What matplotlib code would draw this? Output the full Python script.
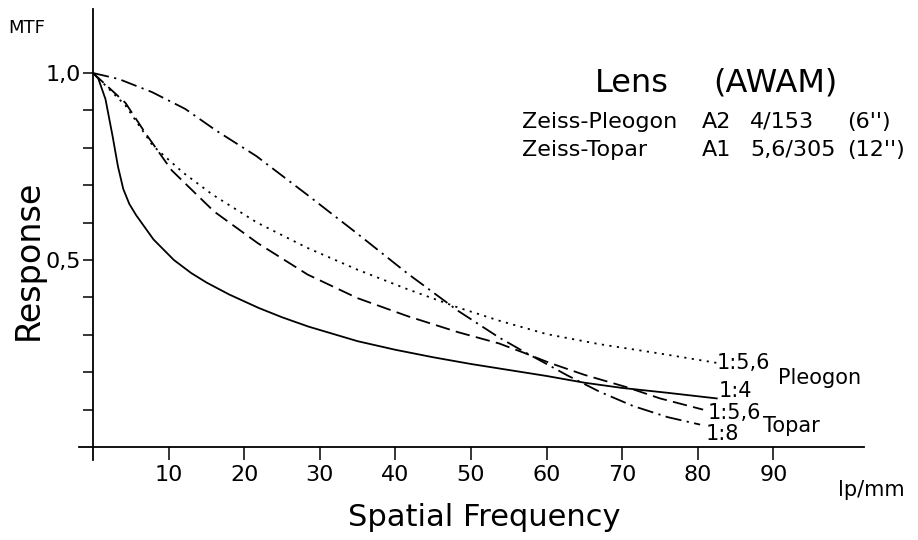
import matplotlib
matplotlib.use("Agg")
import matplotlib.pyplot as plt

plt.rcParams['font.family'] = ['DejaVu Sans']

# MTF data (lp/mm, response)
pleogon_f4_x = [0, 0.7, 1.65, 2.6, 3.3, 4, 4.8, 5.7, 8, 10.7, 13, 15, 18, 21.9, 25, 28.5,
                35, 40, 45, 50, 55, 60, 65, 70, 76, 82.5]
pleogon_f4_y = [1.0, 0.985, 0.93, 0.83, 0.75, 0.69, 0.65, 0.62, 0.555, 0.50, 0.465, 0.44,
                0.408, 0.372, 0.347, 0.322, 0.283, 0.26, 0.24, 0.222, 0.206, 0.19, 0.172,
                0.158, 0.145, 0.13]

pleogon_f56_x = [0, 4.3, 7.9, 11.9, 15.8, 21.7, 28.3, 35, 41.6, 48.3, 53.7, 60, 67, 75, 82.5]
pleogon_f56_y = [1.0, 0.913, 0.806, 0.734, 0.675, 0.60, 0.533, 0.474, 0.422, 0.373, 0.338,
                 0.302, 0.275, 0.25, 0.225]

topar_f56_x = [0, 4.3, 6.9, 10.4, 16, 21.8, 28.4, 35, 41.6, 48.3, 53.7, 57, 60.4, 65, 70.6,
               75, 80.7]
topar_f56_y = [1.0, 0.92, 0.84, 0.74, 0.63, 0.545, 0.461, 0.398, 0.35, 0.307, 0.277, 0.252,
               0.225, 0.193, 0.16, 0.13, 0.10]

topar_f8_x = [0, 3.4, 7.8, 12.2, 16.3, 21.6, 28.3, 35, 41.6, 48.3, 53.7, 57, 60, 62.7, 67,
              71.4, 76, 80.3]
topar_f8_y = [1.0, 0.984, 0.949, 0.904, 0.846, 0.778, 0.675, 0.57, 0.464, 0.364, 0.293,
              0.255, 0.222, 0.192, 0.148, 0.11, 0.08, 0.06]

x_ticks = [10, 20, 30, 40, 50, 60, 70, 80, 90]
y_ticks = [0.1, 0.2, 0.3, 0.4, 0.5, 0.6, 0.7, 0.8, 0.9, 1.0]

W, H = 918, 540
fig = plt.figure(figsize=(W / 100, H / 100), dpi=100)
ax = fig.add_axes([77.9 / W, 1 - 462 / H, 793.8 / W, 456.3 / H])
ax.set_xlim(-2, 103)
ax.set_ylim(-0.04, 1.18)

lw = 1.3
ax.plot(pleogon_f4_x, pleogon_f4_y, color='black', lw=lw, ls='-')
ax.plot(pleogon_f56_x, pleogon_f56_y, color='black', lw=lw, ls=(0, (1.2, 3)))
ax.plot(topar_f56_x, topar_f56_y, color='black', lw=lw, ls=(0, (8, 3.5)))
ax.plot(topar_f8_x, topar_f8_y, color='black', lw=lw, ls=(0, (9, 3, 1.2, 3)))

# axes drawn through the origin
for s in ['top', 'right']:
    ax.spines[s].set_visible(False)
ax.spines['left'].set_position(('data', 0))
ax.spines['bottom'].set_position(('data', 0))
ax.spines['left'].set_bounds(-0.035, 1.17)
ax.spines['bottom'].set_bounds(-1.8, 102)
ax.spines['left'].set_linewidth(1.3)
ax.spines['bottom'].set_linewidth(1.3)

ax.set_xticks(x_ticks)
ax.set_xticklabels([str(t) for t in x_ticks])
ax.set_yticks(y_ticks)
ax.set_yticklabels(['0,5' if abs(t - 0.5) < 1e-9 else ('1,0' if abs(t - 1.0) < 1e-9 else '')
                    for t in y_ticks])
ax.tick_params(axis='x', direction='out', length=9, width=1.1, pad=4, labelsize=16)
ax.tick_params(axis='y', direction='out', length=7.5, width=1.1, pad=1, labelsize=16)

# axis titles
fig.text(8 / W, 1 - 28 / H, 'MTF', fontsize=13, va='center', ha='left')
fig.text(838 / W, 1 - 490 / H, 'lp/mm', fontsize=15, va='center', ha='left')
fig.text(484 / W, 1 - 518 / H, 'Spatial Frequency', fontsize=22, va='center', ha='center')
fig.text(28 / W, 1 - 260 / H, 'Response', fontsize=24, va='center', ha='center',
         rotation=90)

# lens legend block
fig.text(595 / W, 1 - 83 / H, 'Lens', fontsize=23, va='center', ha='left')
fig.text(713 / W, 1 - 83 / H, '(AWAM)', fontsize=23, va='center', ha='left')
rows = [('Zeiss-Pleogon', 'A2', '4/153', "(6'')", 122),
        ('Zeiss-Topar', 'A1', '5,6/305', "(12'')", 150)]
for name, typ, spec, inch, py in rows:
    fig.text(522 / W, 1 - py / H, name, fontsize=16, va='center', ha='left')
    fig.text(702 / W, 1 - py / H, typ, fontsize=16, va='center', ha='left')
    fig.text(750 / W, 1 - py / H, spec, fontsize=16, va='center', ha='left')
    fig.text(847 / W, 1 - py / H, inch, fontsize=16, va='center', ha='left')

# curve end labels
ax.text(82.5, 0.225, '1:5,6', fontsize=15, va='center', ha='left')
ax.text(90.6, 0.185, 'Pleogon', fontsize=15, va='center', ha='left')
ax.text(82.7, 0.15, '1:4', fontsize=15, va='center', ha='left')
ax.text(81.3, 0.09, '1:5,6', fontsize=15, va='center', ha='left')
ax.text(88.6, 0.056, 'Topar', fontsize=15, va='center', ha='left')
ax.text(81.0, 0.035, '1:8', fontsize=15, va='center', ha='left')

fig.savefig('out.png', dpi=100)
